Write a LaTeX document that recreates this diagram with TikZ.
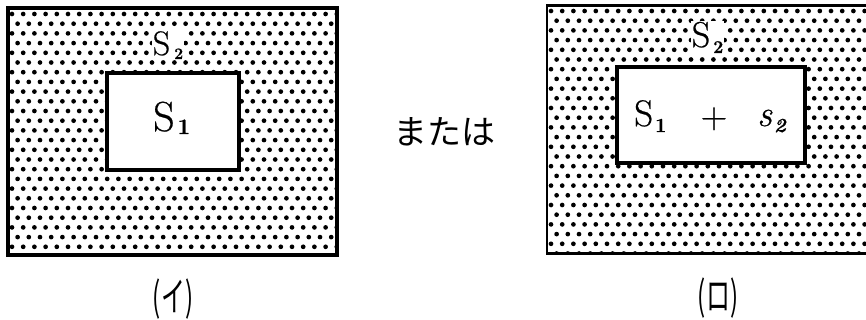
\documentclass[tikz,border=0pt]{standalone}
\usepackage{fontspec}
\setmainfont{Latin Modern Roman}[FakeBold=0.6]
\newfontfamily\jp{Noto Sans CJK JP}
% base text, subscript size, subscript text, lowering (pt), gap (pt)
\newcommand\mylab[5]{#1\hspace{#5pt}\raisebox{-#4pt}{\fontsize{#2}{#2}\selectfont\bfseries #3}}
\begin{document}
\begin{tikzpicture}[x=1pt,y=-1pt,
  frame/.style={line width=3.4pt},
  dotc/.style={fill=black},
  big/.style={inner sep=0pt, font=\fontsize{42}{46}\selectfont},
  mid/.style={inner sep=0pt, font=\fontsize{37}{42}\selectfont},
  sublbl/.style={inner sep=0.6pt, fill=white},
  captxt/.style={inner sep=0pt, font=\jp\fontsize{40}{44}\selectfont}]
\useasboundingbox (0,0) rectangle (866,320);
% ---------- left (イ)
\begin{scope}
\clip (8,8) rectangle (337,255);
\foreach \r in {0,...,26}{
  \foreach \c in {0,...,30}{
    \fill[dotc] ({12+\c*11.2+mod(\r,2)*5.6},{14+\r*9.7}) circle (2.35);
  }
}
\end{scope}
\draw[frame] (8,8) rectangle (337,255);
\draw[frame,fill=white] (107,73) rectangle (239,170);
\node[big,anchor=base west] (S1a) at (153,131) {\mylab{S}{22}{1}{3}{3}};
\node[sublbl,anchor=base west,font=\fontsize{34}{38}\selectfont] (S2a) at (152,55) {\mylab{S}{16}{2}{4}{4}};
% ---------- middle
\node[font=\jp\fontsize{34}{36}\selectfont,inner sep=0pt] (mata) at (444,132) {または};
% ---------- right (ロ)
\begin{scope}
\clip (546,5) rectangle (866,254);
\foreach \r in {0,...,26}{
  \foreach \c in {0,...,29}{
    \fill[dotc] ({551+\c*11.2+mod(\r,2)*5.6},{11+\r*9.7}) circle (2.35);
  }
}
\draw[frame] (546,5) rectangle (880,254);
\end{scope}
\draw[frame,fill=white] (617,67) rectangle (805,163);
\node[mid,anchor=base west] (S1b) at (634,126) {\mylab{S}{20}{1}{6}{2}};
\node[mid,anchor=base] (plus) at (714,128) {+};
\node[mid,anchor=base west] (s2b) at (757,126) {\mylab{\itshape s}{20}{2}{6}{2}};
\node[sublbl,anchor=base west,font=\fontsize{36}{40}\selectfont] (S2b) at (691,47) {\mylab{S}{18}{2}{6}{3}};
% ---------- captions
\node[captxt] (capa) at (173,299) {\scalebox{0.6}[1]{(イ)}};
\node[captxt] (capb) at (718,298) {\scalebox{0.6}[1]{(ロ)}};
\end{tikzpicture}
\end{document}
